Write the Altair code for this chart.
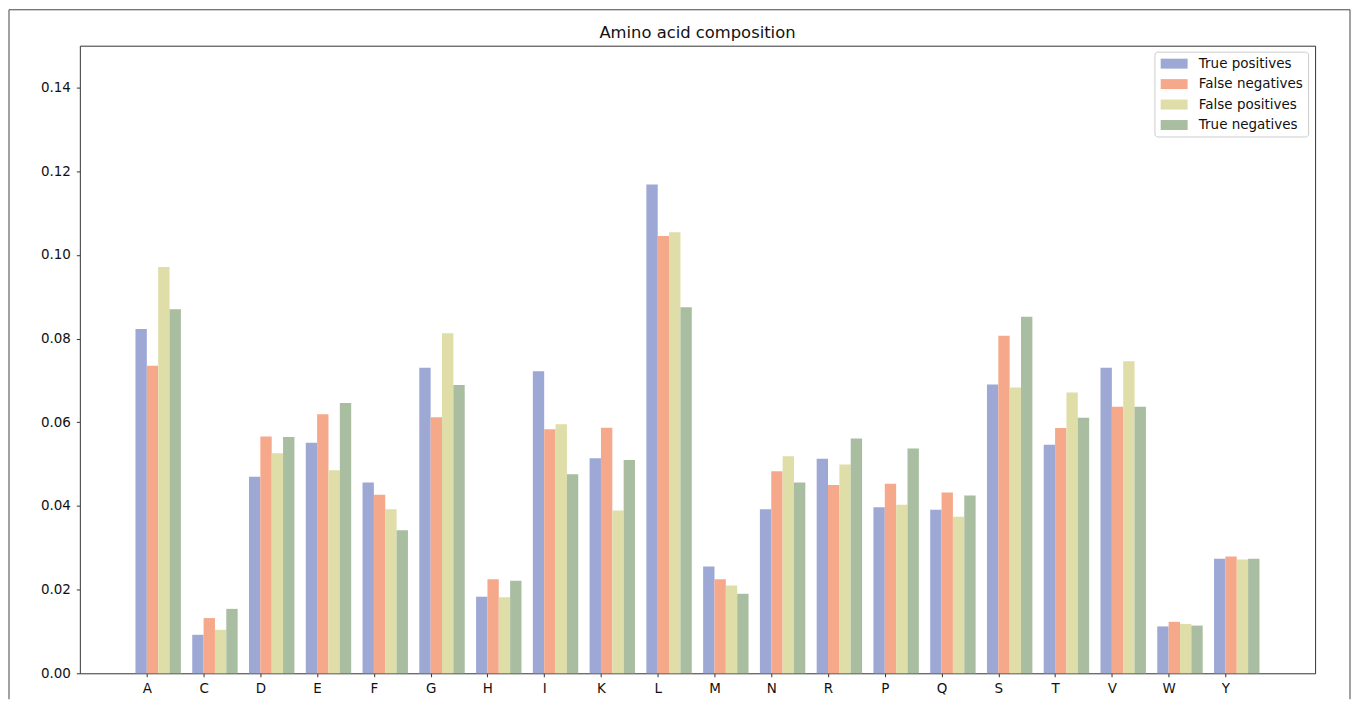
import altair as alt
import pandas as pd

categories = ["A", "C", "D", "E", "F", "G", "H", "I", "K", "L",
              "M", "N", "R", "P", "Q", "S", "T", "V", "W", "Y"]
series = ["True positives", "False negatives", "False positives", "True negatives"]

true_pos = [0.0823, 0.0092, 0.0470, 0.0551, 0.0456, 0.0730, 0.0183, 0.0722, 0.0514, 0.1168,
            0.0255, 0.0392, 0.0513, 0.0397, 0.0391, 0.0690, 0.0546, 0.0730, 0.0112, 0.0274]
false_neg = [0.0735, 0.0132, 0.0566, 0.0619, 0.0427, 0.0612, 0.0225, 0.0583, 0.0587, 0.1045,
             0.0225, 0.0483, 0.0450, 0.0453, 0.0432, 0.0807, 0.0586, 0.0637, 0.0123, 0.0279]
false_pos = [0.0971, 0.0104, 0.0526, 0.0485, 0.0392, 0.0813, 0.0182, 0.0595, 0.0389, 0.1054,
             0.0210, 0.0519, 0.0499, 0.0403, 0.0374, 0.0683, 0.0671, 0.0746, 0.0118, 0.0272]
true_neg = [0.0870, 0.0154, 0.0565, 0.0646, 0.0342, 0.0689, 0.0221, 0.0476, 0.0510, 0.0875,
            0.0190, 0.0456, 0.0561, 0.0537, 0.0425, 0.0852, 0.0611, 0.0637, 0.0114, 0.0274]

colors = ["#9DA8D5", "#F6A88B", "#DFDDA8", "#A9BDA1"]
y_ticks = [0.0, 0.02, 0.04, 0.06, 0.08, 0.10, 0.12, 0.14]
title_text = "Amino acid composition"

rows = []
for name, vals in zip(series, [true_pos, false_neg, false_pos, true_neg]):
    for aa, v in zip(categories, vals):
        rows.append({"aa": aa, "series": name, "value": v})
df = pd.DataFrame(rows)

FONT = "DejaVu Sans"
W, H = 1238, 629
PAD_INNER, PAD_OUTER = 0.2, 0.98
step = W / (len(categories) - PAD_INNER + 2 * PAD_OUTER)
shift = -0.2 * step  # ticks sit at the left edge of the 2nd bar of each group

bars = alt.Chart(df).mark_bar().encode(
    x=alt.X("aa:N", sort=categories,
            scale=alt.Scale(paddingInner=PAD_INNER, paddingOuter=PAD_OUTER),
            axis=alt.Axis(title=None, labelAngle=0, labelPadding=5,
                          tickOffset=shift, labelOffset=0)),
    xOffset=alt.XOffset("series:N", sort=series,
                        scale=alt.Scale(paddingInner=0, paddingOuter=0)),
    y=alt.Y("value:Q", scale=alt.Scale(domain=[0, 0.15], nice=False, zero=True),
            axis=alt.Axis(title=None, values=y_ticks, format=".2f", labelPadding=6)),
    color=alt.Color("series:N", sort=series,
                    scale=alt.Scale(domain=series, range=colors),
                    legend=alt.Legend(title=None, orient="none", legendX=1077, legendY=6,
                                      symbolType="M-2,-0.74L2,-0.74L2,0.74L-2,0.74Z",
                                      symbolSize=182.25, symbolOffset=7.75,
                                      symbolStrokeWidth=0,
                                      labelFont=FONT, labelFontSize=13.5, labelColor="#111",
                                      labelOffset=17.75, rowPadding=6.5, padding=5,
                                      strokeColor="#cccccc", fillColor="white",
                                      cornerRadius=3)),
)

title = alt.Chart(pd.DataFrame({"t": [title_text]})).mark_text(
    font=FONT, fontSize=16.4, color="#111", baseline="alphabetic", align="center"
).encode(x=alt.value(W / 2), y=alt.value(-8), text="t:N")

frame_df = pd.DataFrame({"k": [0]})
border_color = "#444"
left_rule = alt.Chart(frame_df).mark_rule(color=border_color, strokeWidth=1).encode(
    x=alt.value(-71), y=alt.value(-36), y2=alt.value(655))
right_rule = alt.Chart(frame_df).mark_rule(color=border_color, strokeWidth=1).encode(
    x=alt.value(1273), y=alt.value(-36), y2=alt.value(655))
top_rule = alt.Chart(frame_df).mark_rule(color=border_color, strokeWidth=1).encode(
    x=alt.value(-71), x2=alt.value(1273), y=alt.value(-36))

chart = alt.layer(bars, title, left_rule, right_rule, top_rule).properties(
    width=W, height=H, padding=0
).configure_view(
    stroke="#333", strokeWidth=1
).configure_axis(
    grid=False, domain=False, tickColor="#333", tickSize=3.5, tickWidth=1,
    labelFont=FONT, labelFontSize=13.5, labelColor="#111"
)

chart.save("out.html", embed_options={"renderer": "svg", "actions": False})
